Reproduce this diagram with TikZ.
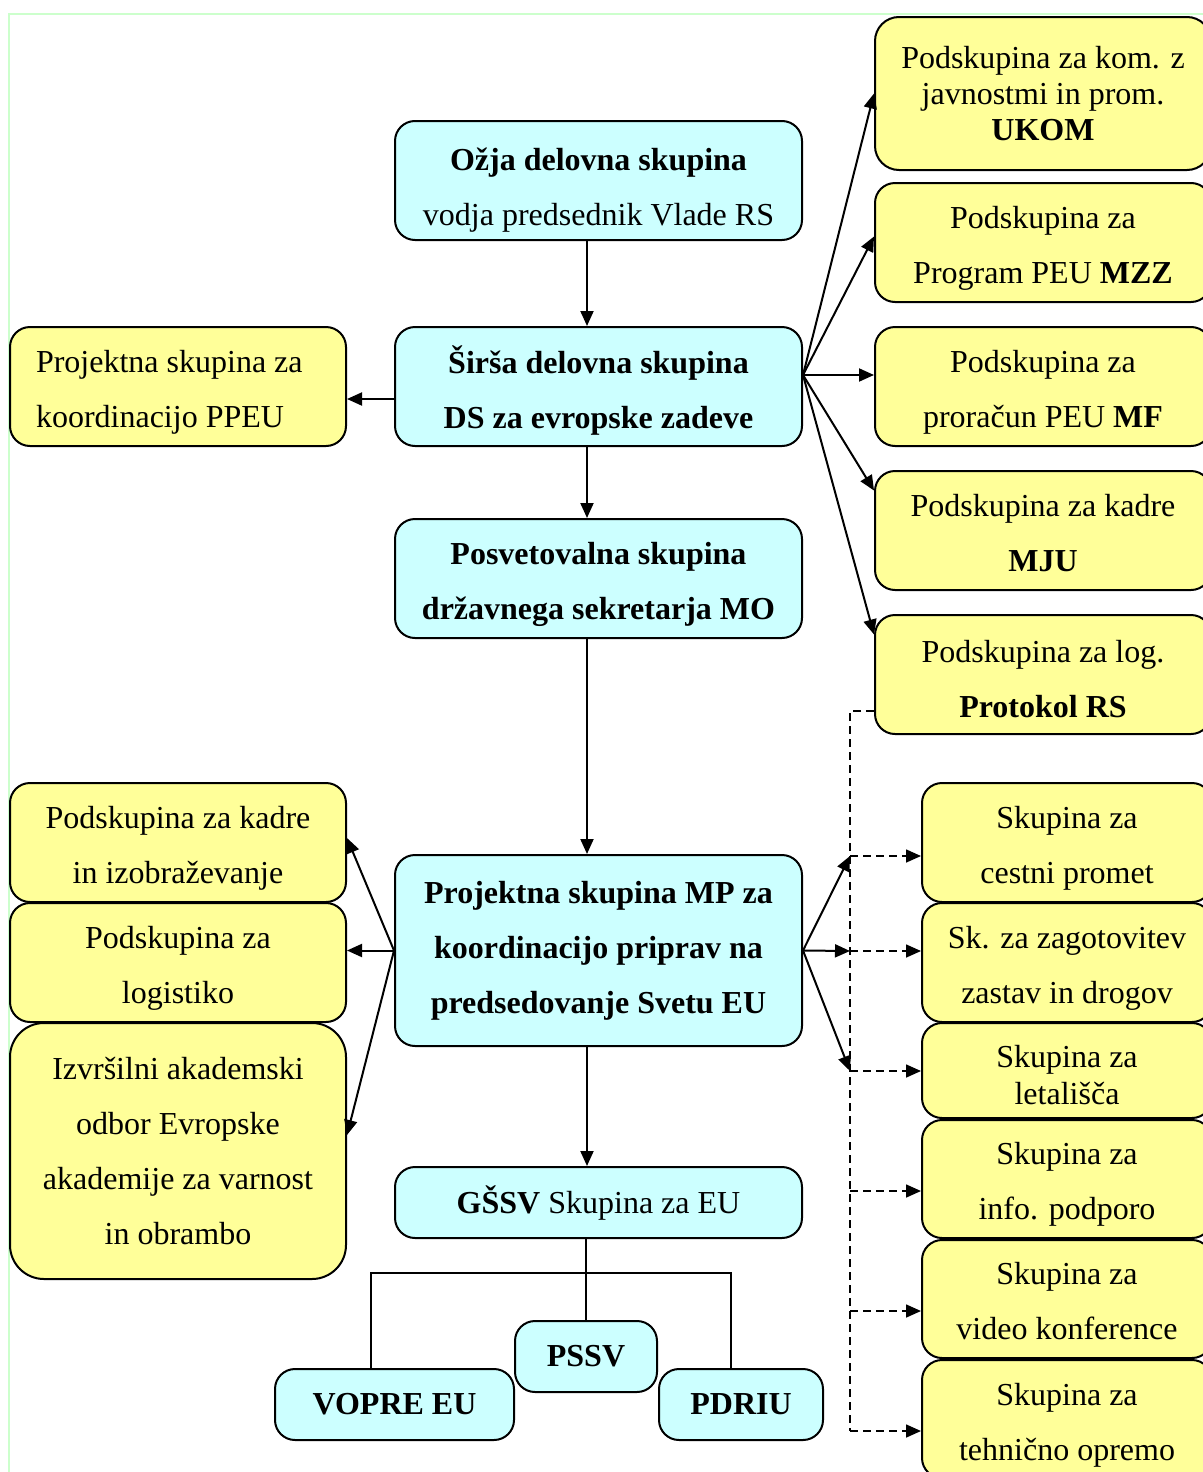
\documentclass[tikz,border=0pt]{standalone}
\usepackage{fontspec}
\setmainfont{Liberation Serif}
\usetikzlibrary{arrows.meta,positioning}
\definecolor{modro}{HTML}{CCFFFF}
\definecolor{rumeno}{HTML}{FFFF99}
\definecolor{okvir}{HTML}{CCFFCC}
% visji prvi vrstici, da je besedilo nizje v okvirju
\newcommand{\zgoraj}[1][17pt]{\rule{0pt}{#1}}

\begin{document}
\begin{tikzpicture}[
        x=0.5pt, y=-0.5pt,
        skupina/.style={draw, line width=1pt, rounded corners=10pt, align=center, inner sep=2pt, font=\fontsize{16}{27.5}\selectfont},
        modra/.style={skupina, fill=modro, minimum width=203.5pt},
        rumena/.style={skupina, fill=rumeno, minimum width=168pt, minimum height=59.5pt},
        spodnja/.style={rumena, minimum width=145pt},
        puscica/.style={-{Triangle[length=7.5pt, width=6.5pt]}, line width=1pt},
        crtkana/.style={line width=0.8pt, dash pattern=on 4pt off 2.5pt},
        crta/.style={line width=1pt}
    ]
        \useasboundingbox (0,0) rectangle (1203,1472);
        \draw[okvir, line width=1pt] (9,14) rectangle (1230,1500);

        % osrednji stolpec
        \node[modra, minimum height=59.5pt] (ozja) at (598.5,180.5) {\zgoraj[20.5pt]\textbf{Ožja delovna skupina}\\vodja predsednik Vlade RS};
        \node[modra, minimum height=59.5pt] (sirsa) at (598.5,386.5) {\zgoraj[17.5pt]\textbf{Širša delovna skupina}\\\textbf{DS za evropske zadeve}};
        \node[modra, minimum height=59.5pt] (posvet) at (598.5,578.5) {\zgoraj\textbf{Posvetovalna skupina}\\\textbf{državnega sekretarja MO}};
        \node[modra, minimum height=95.5pt] (mp) at (598.5,950.5) {\textbf{Projektna skupina MP za}\\\textbf{koordinacijo priprav na}\\\textbf{predsedovanje Svetu EU}};
        \node[modra, minimum height=35.5pt] (gssv) at (598.5,1202.5) {\textbf{GŠSV} Skupina za EU};
        \node[modra, minimum width=71pt, minimum height=35.5pt] (pssv) at (586,1356.5) {\textbf{PSSV}};
        \node[modra, minimum width=119.5pt, minimum height=35.5pt] (vopre) at (394.5,1404.5) {\textbf{VOPRE EU}};
        \node[modra, minimum width=82pt, minimum height=35.5pt] (pdriu) at (741,1404.5) {\textbf{PDRIU}};

        % levi stolpec
        \node[rumena, align=flush left, text width=142pt, inner xsep=13pt] (ppeu) at (178,386.5) {\zgoraj Projektna skupina za\\koordinacijo PPEU};
        \node[rumena] (kadre) at (178,842.5) {\zgoraj Podskupina za kadre\\in izobraževanje};
        \node[rumena] (logistika) at (178,962.5) {\zgoraj Podskupina za\\logistiko};
        \node[rumena, minimum height=128pt, rounded corners=17pt] (akademija) at (178,1151) {Izvršilni akademski\\odbor Evropske\\akademije za varnost\\in obrambo};

        % desni stolpec, podskupine
        \node[rumena, minimum height=76.5pt, rounded corners=12pt, font=\fontsize{16}{18}\selectfont] (ukom) at (1043,93.5) {Podskupina za kom. z\\javnostmi in prom.\\\textbf{UKOM}};
        \node[rumena] (mzz) at (1043,242.5) {\zgoraj Podskupina za\\Program PEU \textbf{MZZ}};
        \node[rumena] (mf) at (1043,386.5) {\zgoraj Podskupina za\\proračun PEU \textbf{MF}};
        \node[rumena] (mju) at (1043,530.5) {\zgoraj[14pt]Podskupina za kadre\\\textbf{MJU}};
        \node[rumena] (protokol) at (1043,674.5) {\zgoraj[15.5pt]Podskupina za log.\\\textbf{Protokol RS}};

        % desni stolpec, skupine MO
        \node[spodnja] (cestni) at (1067,842.5) {\zgoraj Skupina za\\cestni promet};
        \node[spodnja] (zastave) at (1067,962.5) {\zgoraj Sk. za zagotovitev\\zastav in drogov};
        \node[spodnja, minimum height=47.5pt, font=\fontsize{16}{18.5}\selectfont] (letalisca) at (1067,1070.5) {\zgoraj[16pt]Skupina za\\letališča};
        \node[spodnja, minimum height=59pt] (info) at (1067,1179) {\zgoraj[16pt]Skupina za\\info. podporo};
        \node[spodnja, minimum height=59pt] (video) at (1067,1299) {\zgoraj[13pt]Skupina za\\video konference};
        \node[spodnja, minimum height=59pt] (tehnika) at (1067,1419) {\zgoraj Skupina za\\tehnično opremo};

        % tocke na crtkani zbiralki
        \coordinate (sirsa-izhod) at ([yshift=5.75pt]sirsa.east);
        \coordinate (zbir-vrh) at (850,711);
        \coordinate (zbir1) at (850,856);
        \coordinate (zbir2) at (850,951);
        \coordinate (zbir3) at (850,1071);
        \coordinate (zbir4) at (850,1191);
        \coordinate (zbir5) at (850,1311);
        \coordinate (zbir6) at (850,1431);
        \coordinate (razcep-l) at (371,1273);
        \coordinate (razcep-d) at (731,1273);

        \draw[puscica] ([xshift=-5.75pt]ozja.south) -- ([xshift=-5.75pt]sirsa.north);
        \draw[puscica] ([xshift=-5.75pt]sirsa.south) -- ([xshift=-5.75pt]posvet.north);
        \draw[puscica] ([xshift=-5.75pt]posvet.south) -- ([xshift=-5.75pt]mp.north);
        \draw[puscica] ([xshift=-5.75pt]mp.south) -- ([xshift=-5.75pt]gssv.north);
        \draw[puscica] ([yshift=-6.25pt]sirsa.west) -- ([yshift=-6.25pt]ppeu.east);

        \draw[puscica] (sirsa-izhod) -- (ukom.west);
        \draw[puscica] (sirsa-izhod) -- ([yshift=3pt]mzz.west);
        \draw[puscica] (sirsa-izhod) -- (sirsa-izhod -| mf.west);
        \draw[puscica] (sirsa-izhod) -- ([yshift=20pt]mju.west);
        \draw[puscica] (sirsa-izhod) -- ([yshift=20pt]protokol.west);

        \draw[puscica] (mp.west) -- ([yshift=2.25pt]kadre.east);
        \draw[puscica] (mp.west) -- (mp.west -| logistika.east);
        \draw[puscica] (mp.west) -- ([yshift=8pt]akademija.east);

        \draw[puscica] (mp.east) -- (zbir1);
        \draw[puscica] (mp.east) -- (zbir2);
        \draw[puscica] (mp.east) -- (zbir3);

        \draw[crtkana] (zbir-vrh -| protokol.west) -- (zbir-vrh) -- (zbir6);
        \draw[crtkana, puscica, line width=0.8pt] (zbir1) -- (zbir1 -| cestni.west);
        \draw[crtkana, puscica, line width=0.8pt] (zbir2) -- (zbir2 -| zastave.west);
        \draw[crtkana, puscica, line width=0.8pt] (zbir3) -- (zbir3 -| letalisca.west);
        \draw[crtkana, puscica, line width=0.8pt] (zbir4) -- (zbir4 -| info.west);
        \draw[crtkana, puscica, line width=0.8pt] (zbir5) -- (zbir5 -| video.west);
        \draw[crtkana, puscica, line width=0.8pt] (zbir6) -- (zbir6 -| tehnika.west);

        \draw[crta] (pssv.north |- gssv.south) -- (pssv.north);
        \draw[crta] (razcep-l |- vopre.north) -- (razcep-l) -- (razcep-d) -- (razcep-d |- pdriu.north);
    \end{tikzpicture}
\end{document}
